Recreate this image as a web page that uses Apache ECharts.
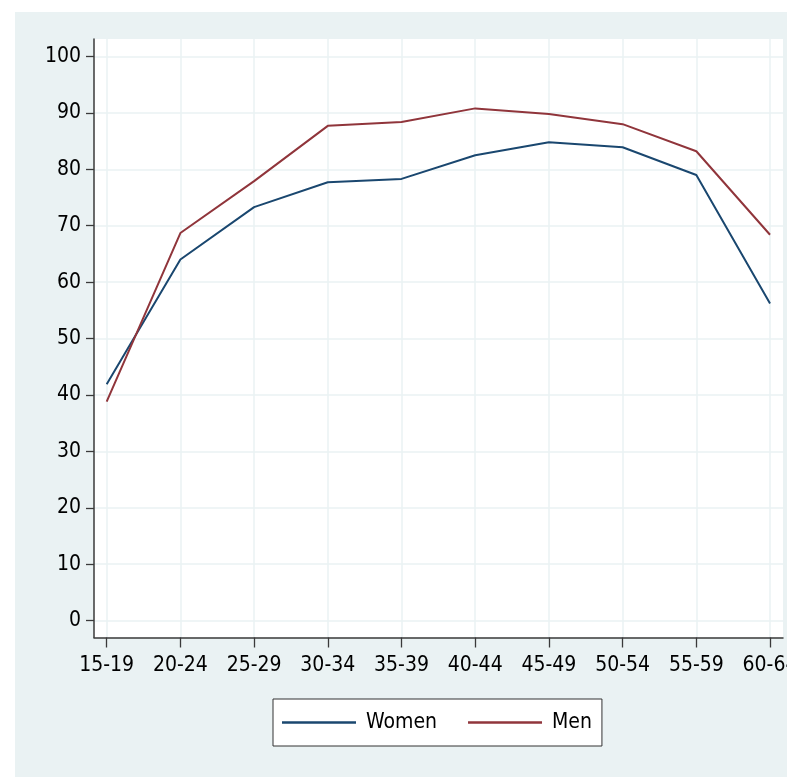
<!DOCTYPE html>
<html>
<head>
<meta charset="utf-8">
<script src="https://cdn.jsdelivr.net/npm/echarts@6/dist/echarts.min.js"></script>
<style>
html,body{margin:0;padding:0;background:#ffffff;width:787px;height:777px;overflow:hidden;}
#c{position:absolute;left:15px;top:12px;width:772px;height:765px;background:#EAF2F3;}
</style>
</head>
<body>
<div id="c"></div>
<script>
var categories = ['15-19','20-24','25-29','30-34','35-39','40-44','45-49','50-54','55-59','60-64'];
var women = [41.9, 64.0, 73.3, 77.7, 78.3, 82.5, 84.8, 83.9, 79.0, 56.2];
var men = [38.8, 68.7, 77.9, 87.7, 88.4, 90.8, 89.8, 88.0, 83.2, 68.4];
var yTicks = [0,10,20,30,40,50,60,70,80,90,100];
var xTicks = [0,1,2,3,4,5,6,7,8,9];

var FONT = "'Liberation Sans Narrow', 'Arial Narrow', 'DejaVu Sans Condensed', sans-serif";
var chart = echarts.init(document.getElementById('c'), null, {renderer:'canvas', width: 772, height: 765});
chart.setOption({
  backgroundColor: 'transparent',
  animation: false,
  grid: {
    left: 79, top: 27, right: 4, bottom: 139.5,
    show: true, backgroundColor: '#ffffff', borderWidth: 0,
    containLabel: false,
    outerBoundsMode: 'none'
  },
  xAxis: {
    type: 'value',
    min: -0.172, max: 9.176,
    axisLine: {show: true, onZero: false, lineStyle: {color: '#3a3a3a', width: 1.5}},
    axisTick: {show: true, length: 10, customValues: xTicks, lineStyle: {color: '#3a3a3a', width: 1.3}},
    axisLabel: {
      customValues: xTicks, margin: 18, hideOverlap: false,
      formatter: function(v){ return categories[Math.round(v)]; },
      fontFamily: FONT, fontSize: 21, color: '#000'
    },
    splitLine: {show: true, lineStyle: {color: '#EAF2F3', width: 1.5}}
  },
  yAxis: {
    type: 'value',
    min: -3, max: 103.1,
    axisLine: {show: true, onZero: false, lineStyle: {color: '#3a3a3a', width: 1.5}},
    axisTick: {show: true, length: 8, customValues: yTicks, lineStyle: {color: '#3a3a3a', width: 1.3}},
    axisLabel: {
      customValues: yTicks, margin: 13,
      fontFamily: FONT, fontSize: 21, color: '#000'
    },
    splitLine: {show: true, lineStyle: {color: '#EAF2F3', width: 1.5}}
  },
  legend: {
    left: 258, top: 687,
    orient: 'horizontal',
    backgroundColor: '#ffffff',
    borderColor: '#333333', borderWidth: 1,
    padding: [13, 10, 13, 9],
    itemGap: 31,
    itemWidth: 74, itemHeight: 2.5,
    icon: 'rect',
    textStyle: {fontFamily: FONT, fontSize: 21, color: '#000', padding: [0,0,0,5]},
    data: ['Women', 'Men']
  },
  series: [
    {
      name: 'Women', type: 'line', symbol: 'none',
      lineStyle: {color: '#1A476F', width: 2},
      itemStyle: {color: '#1A476F'},
      data: women.map(function(v,i){ return [xTicks[i], v]; })
    },
    {
      name: 'Men', type: 'line', symbol: 'none',
      lineStyle: {color: '#90353B', width: 2},
      itemStyle: {color: '#90353B'},
      data: men.map(function(v,i){ return [xTicks[i], v]; })
    }
  ]
});
</script>
</body>
</html>
